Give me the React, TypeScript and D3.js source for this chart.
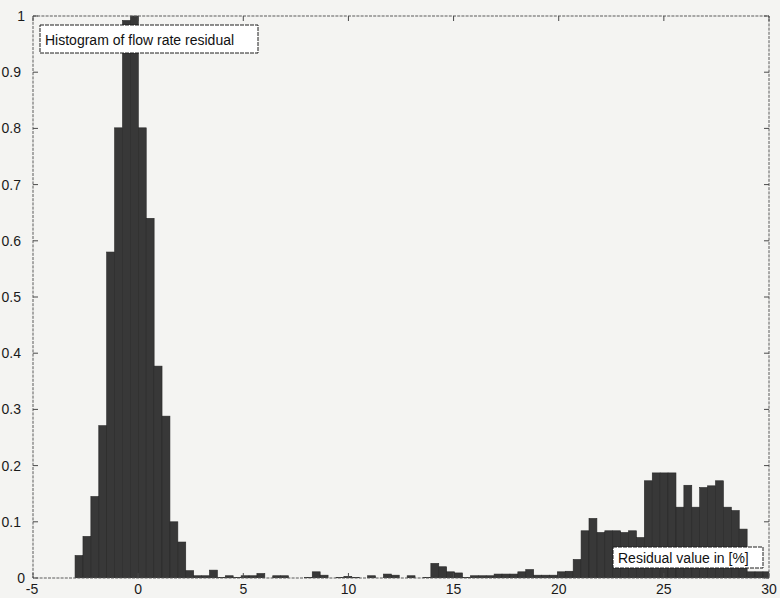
import React from "react";
import * as d3 from "d3";

const WIDTH = 780;
const HEIGHT = 598;

// Histogram bins: left edge of the first bin and common bin width (in %)
const binStart = -3.0;
const binWidth = 0.376;

// Normalised bin heights (tallest bin = 1)
const binValues = [
  0.04, 0.074, 0.145, 0.271, 0.58, 0.801, 0.992, 1.0, 0.801, 0.64,
  0.377, 0.288, 0.1, 0.064, 0.013, 0.004, 0.004, 0.014, 0.001, 0.004,
  0.001, 0.004, 0.004, 0.008, 0.0, 0.004, 0.004, 0.0, 0.0, 0.001,
  0.011, 0.005, 0.0, 0.001, 0.003, 0.001, 0.0, 0.004, 0.0, 0.007,
  0.005, 0.0, 0.004, 0.0, 0.001, 0.026, 0.02, 0.011, 0.009, 0.001,
  0.004, 0.004, 0.004, 0.007, 0.007, 0.007, 0.011, 0.015, 0.005, 0.005,
  0.005, 0.011, 0.012, 0.033, 0.084, 0.106, 0.081, 0.084, 0.084, 0.081,
  0.084, 0.072, 0.173, 0.187, 0.187, 0.187, 0.126, 0.165, 0.126, 0.161,
  0.164, 0.173, 0.126, 0.12, 0.087, 0.011, 0.011, 0.011,
];

const xTicks = [-5, 0, 5, 10, 15, 20, 25, 30];
const xTickLabels = ["-5", "0", "5", "10", "15", "20", "25", "30"];
const yTicks = [0, 0.1, 0.2, 0.3, 0.4, 0.5, 0.6, 0.7, 0.8, 0.9, 1];
const yTickLabels = ["0", "0.1", "0.2", "0.3", "0.4", "0.5", "0.6", "0.7", "0.8", "0.9", "1"];

const titleText = "Histogram of flow rate residual";
const xNoteText = "Residual value in [%]";

const PLOT = { left: 33, right: 769, top: 16, bottom: 578 };
const SANS = "'Liberation Sans', Arial, Helvetica, sans-serif";

export default function App() {
  const x = d3.scaleLinear().domain([-5, 30]).range([PLOT.left, PLOT.right]);
  const y = d3.scaleLinear().domain([0, 1]).range([PLOT.bottom, PLOT.top]);

  const bins = binValues.map((v, i) => {
    const x0 = binStart + i * binWidth;
    return { x0, x1: x0 + binWidth, v };
  });

  const tickLen = 5;

  return (
    <svg
      width={WIDTH}
      height={HEIGHT}
      style={{ position: "absolute", left: 0, top: 0, display: "block" }}
    >
      <defs>
        <clipPath id="plot-clip">
          <rect
            x={PLOT.left}
            y={PLOT.top - 2}
            width={PLOT.right - PLOT.left}
            height={PLOT.bottom - PLOT.top + 2}
          />
        </clipPath>
      </defs>

      <rect x={0} y={0} width={WIDTH} height={HEIGHT} fill="#f4f4f2" />

      <g clipPath="url(#plot-clip)">
        {bins.map((b, i) => (
          <rect
            key={i}
            x={x(b.x0)}
            y={y(b.v)}
            width={x(b.x1) - x(b.x0)}
            height={y(0) - y(b.v)}
            fill="#383838"
            stroke="#262626"
            strokeWidth={0.6}
          />
        ))}
      </g>

      {/* axes frame */}
      <rect
        x={PLOT.left}
        y={PLOT.top}
        width={PLOT.right - PLOT.left}
        height={PLOT.bottom - PLOT.top}
        fill="none"
        stroke="#5a5a5a"
        strokeWidth={1}
        strokeDasharray="3,1.2"
      />

      <g stroke="#4a4a4a" strokeWidth={1}>
        {xTicks.map((t) => (
          <g key={`xt${t}`}>
            <line x1={x(t)} x2={x(t)} y1={PLOT.bottom} y2={PLOT.bottom - tickLen} />
            <line x1={x(t)} x2={x(t)} y1={PLOT.top} y2={PLOT.top + tickLen} />
          </g>
        ))}
        {yTicks.map((t) => (
          <g key={`yt${t}`}>
            <line x1={PLOT.left} x2={PLOT.left + tickLen} y1={y(t)} y2={y(t)} />
            <line x1={PLOT.right} x2={PLOT.right - tickLen} y1={y(t)} y2={y(t)} />
          </g>
        ))}
      </g>

      <g fontFamily={SANS} fontSize={14} fill="#1a1a1a">
        {xTicks.map((t, i) => (
          <text
            key={`xl${t}`}
            x={x(t) - (t < 0 ? 1 : 0)}
            y={594}
            textAnchor="middle"
          >
            {xTickLabels[i]}
          </text>
        ))}
        {yTicks.map((t, i) => (
          <text
            key={`yl${t}`}
            x={yTickLabels[i].includes(".") ? 21 : 25}
            y={y(t) + 5}
            textAnchor="end"
          >
            {yTickLabels[i]}
          </text>
        ))}
      </g>

      {/* title annotation */}
      <rect
        x={40}
        y={25}
        width={218}
        height={28}
        fill="#ffffff"
        stroke="#1e1e1e"
        strokeWidth={1}
        strokeDasharray="4,1"
      />
      <text x={45} y={45} fontFamily={SANS} fontSize={14} fill="#111">
        {titleText}
      </text>

      {/* x-axis quantity annotation */}
      <rect
        x={613}
        y={547}
        width={150}
        height={21}
        fill="#ffffff"
        stroke="#1e1e1e"
        strokeWidth={1}
        strokeDasharray="4,1"
      />
      <text x={618} y={563} fontFamily={SANS} fontSize={14} fill="#111">
        {xNoteText}
      </text>
    </svg>
  );
}
